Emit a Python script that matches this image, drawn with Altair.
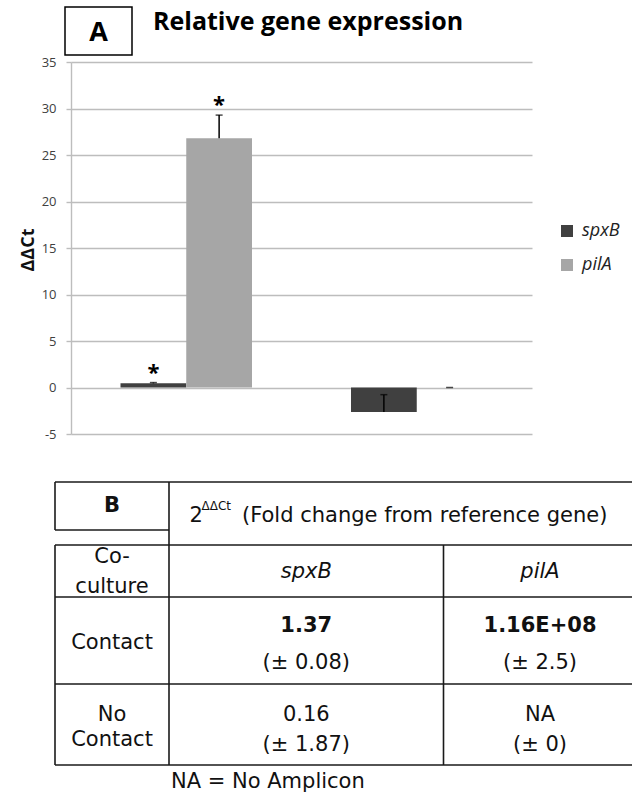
import altair as alt
import pandas as pd

# ---------------- Panel A data ----------------
conditions = ["Contact", "No Contact"]
genes = ["spxB", "pilA"]
ddct_spxB = [0.45, -2.64]
ddct_pilA = [26.79, 0.0]
sd_spxB = [0.08, 1.87]
sd_pilA = [2.5, 0.0]
star_spxB = [True, False]
star_pilA = [True, False]
y_ticks = [-5, 0, 5, 10, 15, 20, 25, 30, 35]

panel_a_label = "A"
panel_a_title = "Relative gene expression"
y_title = "ΔΔCt"

# ---------------- Panel B data ----------------
panel_b_label = "B"
header_base = "2"
header_sup = "ΔΔCt"
header_text = "(Fold change from reference gene)"
corner_label = ["Co-", "culture"]
row_labels = [["Contact"], ["No", "Contact"]]
fold_spxB = ["1.37", "0.16"]
fold_pilA = ["1.16E+08", "NA"]
fold_sd_spxB = ["0.08", "1.87"]
fold_sd_pilA = ["2.5", "0"]
bold_row = [True, False]
footnote = "NA = No Amplicon"

# ---------------- layout (absolute pixels on the 632x795 page) ----------------
L = dict(
    origin=(71, 62), plot=(461, 372), canvas=(632, 795),
    a_box=(65, 7, 132, 55), a_label=(98.5, 33), title=(153, 30),
    y_title=(33, 249.5), legend=(558, 222),
    t_cols=[55, 169, 443.5, 636.5], t_head=(482, 530), t_rows=[545, 597, 684, 765],
    head_y=516, sup_y=506, head_x=(189.5, 201.5, 242),
    corner_lines=[557, 587], gene_y=572,
    label_lines=[[643], [715, 739.5]], value_lines=[[626, 663], [715, 745]],
    footnote=(171, 782),
)
OX, OY = L["origin"]
PW, PH = L["plot"]
CW, CH = L["canvas"]


def rx(x):
    return x - OX


def ry(y):
    return y - OY


TXT_FONT = "DejaVu Sans"
CH_FONT = "Open Sans"

# ---------------- bar data ----------------
rows = []
for i, c in enumerate(conditions):
    for g, vals, sds, stars in [("spxB", ddct_spxB, sd_spxB, star_spxB),
                                ("pilA", ddct_pilA, sd_pilA, star_pilA)]:
        rows.append(dict(condition=c, gene=g, value=vals[i], sd=sds[i],
                         end=vals[i] + sds[i], star="*" if stars[i] else ""))
bars_df = pd.DataFrame(rows)

x_enc = alt.X("condition:N", scale=alt.Scale(domain=conditions, paddingInner=0, paddingOuter=0), axis=None)
xo_enc = alt.XOffset("gene:N", scale=alt.Scale(domain=genes, paddingInner=0, paddingOuter=0.753))
y_scale = alt.Scale(domain=[-5, 35], nice=False, zero=False)

bars = alt.Chart(bars_df).mark_bar().encode(
    x=x_enc, xOffset=xo_enc,
    y=alt.Y("value:Q", scale=y_scale,
            axis=alt.Axis(values=y_ticks, title=y_title, grid=True, gridColor="#bdbdbd", gridWidth=1.4,
                          domainColor="#bdbdbd", domainWidth=1.4, tickColor="#bdbdbd", tickWidth=1.4,
                          tickSize=5, labelFont=CH_FONT, labelFontSize=13, labelColor="#404040",
                          labelExpr="toString(datum.value)",
                          labelPadding=10, titleFont=CH_FONT, titleFontSize=18, titleFontWeight="bold",
                          titleColor="#111111", titleAngle=270, titleX=rx(L["y_title"][0]),
                          titleY=ry(L["y_title"][1]), titleAlign="center", titleBaseline="alphabetic")),
    color=alt.Color("gene:N", scale=alt.Scale(domain=genes, range=["#404040", "#a6a6a6"]),
                    legend=alt.Legend(title=None, orient="none", legendX=rx(L["legend"][0]),
                                      legendY=ry(L["legend"][1]), symbolType="square", symbolSize=144,
                                      symbolStrokeWidth=0, labelFont=CH_FONT, labelFontStyle="italic",
                                      labelFontSize=18, labelColor="#222222", labelOffset=6,
                                      rowPadding=16, padding=0)),
)

err = alt.Chart(bars_df).mark_rule(color="black", strokeWidth=1.5).encode(
    x=x_enc, xOffset=xo_enc, y="value:Q", y2="end:Q")
caps = alt.Chart(bars_df).mark_tick(color="black", thickness=1.5, size=7, orient="horizontal").encode(
    x=x_enc, xOffset=xo_enc, y="end:Q")
stars = alt.Chart(bars_df).transform_filter("datum.star != ''").mark_text(
    font=CH_FONT, fontSize=22, fontWeight="bold", baseline="alphabetic", dy=-3, color="black").encode(
    x=x_enc, xOffset=xo_enc, y="end:Q", text="star:N")


# ---------------- annotation / table helpers (pixel positions, identity scales) ----------------
def px_text(items, **kw):
    df = pd.DataFrame([dict(px=rx(x), py=ry(y), txt=t) for (t, x, y) in items])
    return alt.Chart(df).mark_text(**kw).encode(
        x=alt.X("px:Q", scale=None, axis=None),
        y=alt.Y("py:Q", scale=None, axis=None),
        text="txt:N")


ax0, ay0, ax1, ay1 = L["a_box"]
box_df = pd.DataFrame([dict(x1=rx(ax0), y1=ry(ay0), x2=rx(ax1), y2=ry(ay1))])
a_box = alt.Chart(box_df).mark_rect(fill="white", stroke="black", strokeWidth=1.5).encode(
    x=alt.X("x1:Q", scale=None, axis=None), x2="x2:Q",
    y=alt.Y("y1:Q", scale=None, axis=None), y2="y2:Q")
a_label = px_text([(panel_a_label, *L["a_label"])], font=CH_FONT, fontSize=27, fontWeight="bold",
                  align="center", baseline="middle", color="black")
a_title = px_text([(panel_a_title, *L["title"])], font=CH_FONT, fontSize=25, fontWeight="bold",
                  align="left", baseline="alphabetic", color="black")

# table lines
c = L["t_cols"]
r = L["t_rows"]
h0, h1 = L["t_head"]
right = CW + 10
seg = [
    (c[0], h0, c[1], h0), (c[0], h1, c[1], h1), (c[0], h0, c[0], h1),
    (c[1], h0, right, h0), (c[1], h0, c[1], r[-1]),
    (c[0], r[0], c[0], r[-1]), (c[2], r[0], c[2], r[-1]),
] + [(c[0], y, right, y) for y in r]
lines_df = pd.DataFrame([dict(x1=rx(a), y1=ry(b), x2=rx(cc), y2=ry(d)) for a, b, cc, d in seg])
t_lines = alt.Chart(lines_df).mark_rule(color="#1a1a1a", strokeWidth=1.6).encode(
    x=alt.X("x1:Q", scale=None, axis=None), x2="x2:Q",
    y=alt.Y("y1:Q", scale=None, axis=None), y2="y2:Q")

col_c = [(c[0] + c[1]) / 2, (c[1] + c[2]) / 2, (c[2] + c[3]) / 2]

normal_items = []
bold_items = [(panel_b_label, col_c[0], (h0 + h1) / 2)]
for t, y in zip(corner_label, L["corner_lines"]):
    normal_items.append((t, col_c[0], y))
for i in range(len(conditions)):
    for t, y in zip(row_labels[i], L["label_lines"][i]):
        normal_items.append((t, col_c[0], y))
    vy, sy = L["value_lines"][i]
    target = bold_items if bold_row[i] else normal_items
    target.append((fold_spxB[i], col_c[1], vy))
    target.append((fold_pilA[i], col_c[2], vy))
    normal_items.append(("(± " + fold_sd_spxB[i] + ")", col_c[1], sy))
    normal_items.append(("(± " + fold_sd_pilA[i] + ")", col_c[2], sy))

t_normal = px_text(normal_items, font=TXT_FONT, fontSize=21, align="center", baseline="middle", color="#111111")
t_bold = px_text(bold_items, font=TXT_FONT, fontSize=21, fontWeight="bold", align="center",
                 baseline="middle", color="#111111")
t_italic = px_text([(genes[0], col_c[1], L["gene_y"]), (genes[1], col_c[2], L["gene_y"])],
                   font=TXT_FONT, fontSize=21, fontStyle="italic", align="center", baseline="middle",
                   color="#111111")
hx0, hx1, hx2 = L["head_x"]
t_left = px_text([(header_base, hx0, L["head_y"]), (header_text, hx2, L["head_y"]),
                  (footnote, *L["footnote"])],
                 font=TXT_FONT, fontSize=21, align="left", baseline="middle", color="#111111")
t_sup = px_text([(header_sup, hx1, L["sup_y"])], font=TXT_FONT, fontSize=12, align="left",
                baseline="middle", color="#111111")

chart = alt.layer(
    bars, err, caps, stars, a_box, a_label, a_title, t_lines, t_normal, t_bold, t_italic, t_left, t_sup
).properties(
    width=PW, height=PH,
    autosize=alt.AutoSizeParams(type="none"),
    padding={"left": OX, "top": OY, "right": CW - OX - PW, "bottom": CH - OY - PH},
    background="white",
).configure_view(stroke=None)

chart.save("out.html", embed_options={"renderer": "svg", "actions": False})
